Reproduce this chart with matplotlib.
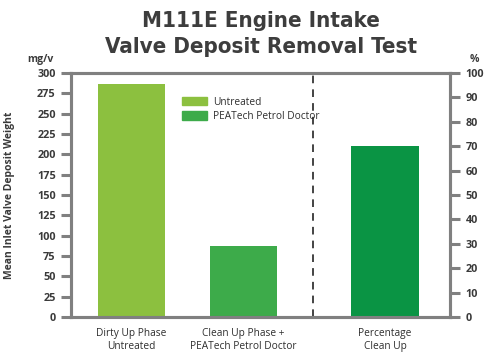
import matplotlib
matplotlib.use('Agg')
import matplotlib.pyplot as plt
from matplotlib.patches import Patch

# values
categories = ['Dirty Up Phase\nUntreated', 'Clean Up Phase +\nPEATech Petrol Doctor', 'Percentage\nClean Up']
deposit = [286, 87]        # mg/v, left axis
clean_pct = [70]           # %, right axis
left_ticks = list(range(0, 301, 25))
right_ticks = list(range(0, 101, 10))
legend_labels = ['Untreated', 'PEATech Petrol Doctor']
title_lines = ['M111E Engine Intake', 'Valve Deposit Removal Test']

colors = ['#8cc03f', '#3dab4a', '#0a9444']
gray = '#808080'
txt = '#3a3a3a'
plt.rcParams['font.family'] = ['Open Sans', 'DejaVu Sans']

xpos = [0, 1, 2.26]
fig = plt.figure(figsize=(4.93, 3.57), dpi=100)
ax = fig.add_axes([0.144, 0.112, 0.769, 0.6835])
ax2 = ax.twinx()

ax.bar(xpos[:2], deposit, width=0.6, color=colors[:2], zorder=2)
ax2.bar(xpos[2:], clean_pct, width=0.6, color=colors[2], zorder=2)
ax.axvline(1.62, color='#111111', lw=1.1, dashes=(5, 4), zorder=1)

ax.set_xlim(-0.54, 2.84)
ax.set_ylim(0, 300)
ax2.set_ylim(0, 100)
ax.set_yticks(left_ticks)
ax2.set_yticks(right_ticks)
ax.set_xticks(xpos)
ax.set_xticklabels(categories, fontsize=7.3, color='#2e2e2e', linespacing=1.2)

for a in (ax, ax2):
    for s in a.spines.values():
        s.set_color(gray)
        s.set_linewidth(2.2)
    a.tick_params(axis='y', length=7, width=2.2, color=gray, labelsize=7.8,
                  labelcolor=txt, pad=4)
ax.tick_params(axis='x', length=0, pad=8)
for lab in ax.get_yticklabels() + ax2.get_yticklabels():
    lab.set_fontweight('bold')

ax.set_ylabel('Mean Inlet Valve Deposit Weight', fontsize=7.5, color=txt,
              fontweight='bold', labelpad=16)
fig.text(0.082, 0.825, 'mg/v', fontsize=7.5, color=txt, fontweight='bold', ha='center')
fig.text(0.962, 0.825, '%', fontsize=7.5, color=txt, fontweight='bold', ha='center')

for line, yb in zip(title_lines, [0.924, 0.852]):
    fig.text(0.529, yb, line, ha='center', va='baseline', fontsize=16,
             fontweight='bold', fontstretch='condensed', color='#3d3d3d',
             family='DejaVu Sans')

handles = [Patch(color=c) for c in colors[:2]]
leg = ax.legend(handles, legend_labels, loc='upper left', bbox_to_anchor=(0.27, 0.94),
                frameon=False, fontsize=7.3, handlelength=2.4, handleheight=0.9,
                labelspacing=0.3, handletextpad=0.6)
for t in leg.get_texts():
    t.set_color('#2e2e2e')

fig.savefig('out.png', dpi=100)
